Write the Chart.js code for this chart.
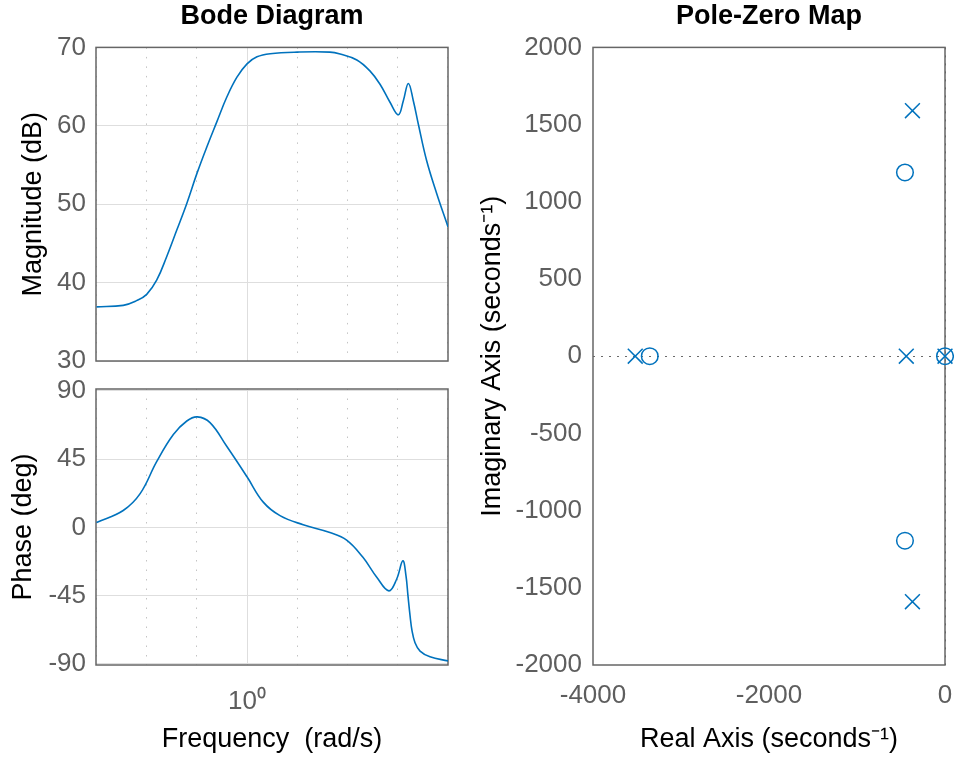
<!DOCTYPE html>
<html lang="en">
<head>
<meta charset="UTF-8">
<title>Bode Diagram and Pole-Zero Map</title>
<script src="https://cdn.jsdelivr.net/npm/chart.js"></script>
<style>
  body { margin: 0; background: #fff; }
  #wrap { position: relative; width: 954px; height: 760px; }
  canvas { position: absolute; left: 0; top: 0; }
</style>
</head>
<body>
<div id="wrap">
  <canvas id="magCanvas" width="954" height="760"></canvas>
  <canvas id="phaseCanvas" width="954" height="760"></canvas>
  <canvas id="pzCanvas" width="954" height="760"></canvas>
</div>
<script>
// Bode magnitude (rad/s, dB)
const magFreq = [0.001, 0.0034, 0.0063, 0.01, 0.0158, 0.025, 0.0398, 0.063, 0.1, 0.158, 0.25, 0.398, 0.63, 1,
                 1.58, 2.9, 10, 45, 72, 155, 282, 449, 710, 1040, 1310, 1650, 2070, 2610, 3800, 6030, 10200];
const magDb = [36.9, 37.1, 37.7, 38.5, 40.3, 43.3, 46.7, 50.1, 53.9, 57.3, 60.5, 63.7, 66.2, 67.9,
               68.8, 69.2, 69.4, 69.4, 69.15, 68.4, 67.0, 65.3, 63.0, 61.4, 63.2, 65.4, 63.2, 60.2, 55.6, 51.4, 47.1];

// Bode phase (rad/s, deg)
const phaseFreq = [0.001, 0.0034, 0.0074, 0.0158, 0.034, 0.063, 0.102, 0.183, 0.394, 1, 2.11, 4.55, 13.2, 45,
                   97, 205, 390, 675, 966, 1280, 1480, 1620, 1780, 1950, 2240, 2820, 4460, 10200];
const phaseDeg = [3.3, 11.2, 22.3, 43.4, 61.3, 70.2, 72.9, 69.1, 53.5, 33.4, 16.7, 7.8, 1.8, -3.3,
                  -8.3, -19.7, -33, -41.8, -34, -22, -32, -45, -58, -68, -76, -81.5, -85.3, -88];

// pole-zero map (seconds^-1)
const poleRe = [-370, -370, -440, -3520, 0];
const poleIm = [1590, -1590, 0, 0, 0];
const zeroRe = [-455, -455, -3355, 0];
const zeroIm = [1190, -1195, 0, 0];

// tick values
const freqTicks = [0.001, 0.01, 0.1, 1, 10, 100, 1000, 10000];
const magTicks = [30, 40, 50, 60, 70];
const phaseTicks = [-90, -45, 0, 45, 90];
const reTicks = [-4000, -2000, 0];
const imTicks = [-2000, -1500, -1000, -500, 0, 500, 1000, 1500, 2000];

const blue = '#0072BD';
const tickColor = '#5e5e5e';
const gridColor = '#dedede';
const minorColor = '#c4c4c4';

Chart.defaults.font.family = '"Liberation Sans", Arial, Helvetica, sans-serif';
Chart.defaults.animation = false;
Chart.defaults.plugins.legend.display = false;
Chart.defaults.plugins.tooltip.enabled = false;

// full box round the axes, like the original
const boxPlugin = {
  id: 'box',
  beforeDatasetsDraw(chart) {
    const { ctx, chartArea: a } = chart;
    ctx.save();
    ctx.strokeStyle = '#666';
    ctx.lineWidth = 1.5;
    ctx.strokeRect(a.left, a.top, a.right - a.left, a.bottom - a.top);
    ctx.restore();
  }
};

function pts(xs, ys) {
  return xs.map((x, i) => ({ x: x, y: ys[i] }));
}

function setTicks(values) {
  return s => { s.ticks = values.map(v => ({ value: v })); };
}

// fixed axis sizes so the plot boxes sit where the original has them
function fixHeight(h) {
  return s => { s.height = h; s.paddingLeft = 0; s.paddingRight = 0; };
}
function fixWidth(w) {
  return s => { s.width = w; s.paddingTop = 0; s.paddingBottom = 0; };
}

function freqAxis(showLabel) {
  return {
    type: 'logarithmic',
    min: 0.000975,
    max: 10180,
    afterBuildTicks: setTicks(freqTicks),
    afterFit: fixHeight(showLabel ? 95 : 0),
    ticks: {
      color: tickColor, font: { size: 26 }, padding: 21, maxRotation: 0, autoSkip: false,
      callback: v => (showLabel && v === 1) ? '10\u2070' : ''
    },
    grid: {
      color: c => (c.tick && c.tick.value === 1) ? gridColor : minorColor,
      drawTicks: false
    },
    border: { display: false, dash: c => (c.tick && c.tick.value === 1) ? [] : [1.5, 8] },
    title: { display: showLabel, text: 'Frequency  (rad/s)', color: '#000', font: { size: 27 }, padding: { top: 8 } }
  };
}

const titleOpts = text => ({
  display: true, text: text, fullSize: false, color: '#000',
  font: { size: 27, weight: 'bold' }, padding: { top: 0, bottom: 15 }
});

// magnitude
new Chart(document.getElementById('magCanvas'), {
  type: 'scatter',
  data: {
    datasets: [{
      data: pts(magFreq, magDb), showLine: true, borderColor: blue, borderWidth: 1.6,
      pointRadius: 0, tension: 0.4
    }]
  },
  options: {
    responsive: false,
    layout: { autoPadding: false, padding: { left: 0, top: 0, right: 506, bottom: 399 } },
    plugins: { title: titleOpts('Bode Diagram') },
    scales: {
      x: freqAxis(false),
      y: {
        min: 30, max: 70,
        afterBuildTicks: setTicks(magTicks),
        afterFit: fixWidth(96),
        ticks: { color: tickColor, font: { size: 26 }, padding: 10 },
        grid: { color: gridColor, drawTicks: false },
        border: { display: false },
        title: { display: true, text: 'Magnitude (dB)', color: '#000', font: { size: 27 }, padding: { top: 17.5 } }
      }
    }
  },
  plugins: [boxPlugin]
});

// phase
new Chart(document.getElementById('phaseCanvas'), {
  type: 'scatter',
  data: {
    datasets: [{
      data: pts(phaseFreq, phaseDeg), showLine: true, borderColor: blue, borderWidth: 1.6,
      pointRadius: 0, tension: 0.4
    }]
  },
  options: {
    responsive: false,
    layout: { autoPadding: false, padding: { left: 0, top: 389, right: 506, bottom: 0 } },
    scales: {
      x: freqAxis(true),
      y: {
        min: -90.7, max: 91.3,
        afterBuildTicks: setTicks(phaseTicks),
        afterFit: fixWidth(96),
        ticks: { color: tickColor, font: { size: 26 }, padding: 10 },
        grid: { color: gridColor, drawTicks: false },
        border: { display: false },
        title: { display: true, text: 'Phase (deg)', color: '#000', font: { size: 27 }, padding: { top: 7.5 } }
      }
    }
  },
  plugins: [boxPlugin]
});

// pole-zero map
const zeroLine = c => (c.tick && c.tick.value === 0) ? '#6a6a6a' : 'rgba(0,0,0,0)';
new Chart(document.getElementById('pzCanvas'), {
  type: 'scatter',
  data: {
    datasets: [
      {
        data: pts(poleRe, poleIm), pointStyle: 'crossRot', pointRadius: 10.5,
        borderColor: blue, borderWidth: 1.5, backgroundColor: 'rgba(0,0,0,0)', clip: false
      },
      {
        data: pts(zeroRe, zeroIm), pointStyle: 'circle', pointRadius: 8.3,
        borderColor: blue, borderWidth: 1.5, backgroundColor: 'rgba(0,0,0,0)', clip: false
      }
    ]
  },
  options: {
    responsive: false,
    layout: { autoPadding: false, padding: { left: 460, top: 0, right: 9, bottom: 0 } },
    plugins: { title: titleOpts('Pole-Zero Map') },
    scales: {
      x: {
        min: -4000, max: 0,
        afterBuildTicks: setTicks(reTicks),
        afterFit: fixHeight(95),
        ticks: { color: tickColor, font: { size: 26 }, padding: 15, maxRotation: 0, callback: v => String(v) },
        grid: { color: zeroLine, drawTicks: false },
        border: { display: false, dash: [2, 6] },
        title: { display: true, text: 'Real Axis (seconds\u207B\u00B9)', color: '#000', font: { size: 27 }, padding: { top: 8 } }
      },
      y: {
        min: -2000, max: 2000,
        afterBuildTicks: setTicks(imTicks),
        afterFit: fixWidth(133),
        ticks: { color: tickColor, font: { size: 26 }, padding: 11, callback: v => String(v) },
        grid: { color: zeroLine, drawTicks: false },
        border: { display: false, dash: [2, 6] },
        title: { display: true, text: 'Imaginary Axis (seconds\u207B\u00B9)', color: '#000', font: { size: 27 }, padding: { top: 16.5 } }
      }
    }
  },
  plugins: [boxPlugin]
});
</script>
</body>
</html>
